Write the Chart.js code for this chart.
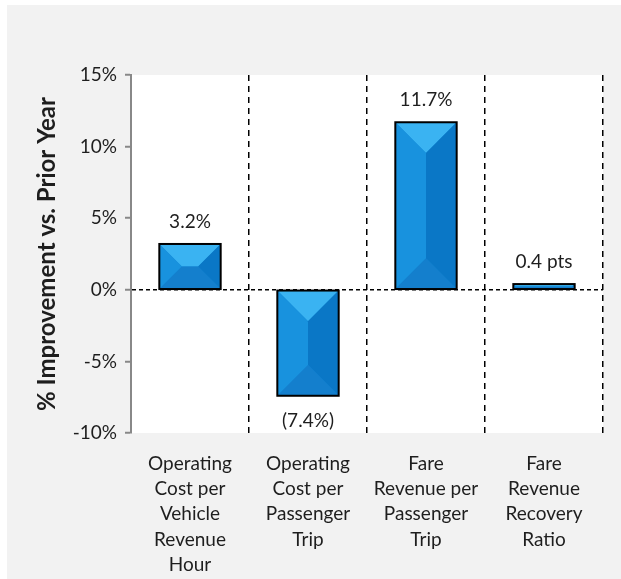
<!DOCTYPE html>
<html>
<head>
<meta charset="utf-8">
<script src="https://cdn.jsdelivr.net/npm/chart.js@4"></script>
<style>
  body { margin: 0; background: #ffffff; }
  #wrap { position: absolute; left: 7px; top: 5px; width: 614px; height: 574px; background: #f2f2f2; }
  canvas { display: block; }
</style>
</head>
<body>
<div id="wrap"><canvas id="bar-chart" width="614" height="574"></canvas></div>
<script>
const categories = [
  ['Operating', 'Cost per', 'Vehicle', 'Revenue', 'Hour'],
  ['Operating', 'Cost per', 'Passenger', 'Trip'],
  ['Fare', 'Revenue per', 'Passenger', 'Trip'],
  ['Fare', 'Revenue', 'Recovery', 'Ratio']
];
const improvement = [3.2, -7.4, 11.7, 0.4];
const valueUnits = ['%', '%', '%', ' pts'];
const yMin = -10;
const yMax = 15;
const yStep = 5;

const fontFamily = 'Lato, "Open Sans", sans-serif';
const textColor = '#1e1e1e';

function formatValue(v, unit) {
  const txt = Math.abs(v).toFixed(1) + unit;
  return v < 0 ? '(' + txt + ')' : txt;
}

// white plot area on the grey card
const plotBackground = {
  id: 'plotBackground',
  beforeDraw(chart) {
    const { ctx, chartArea: a } = chart;
    ctx.save();
    ctx.fillStyle = '#ffffff';
    ctx.fillRect(a.left, a.top, a.right - a.left, a.bottom - a.top);
    ctx.restore();
  }
};

// bevelled look on each bar + value labels
const bevelBars = {
  id: 'bevelBars',
  afterDatasetsDraw(chart) {
    const ctx = chart.ctx;
    const meta = chart.getDatasetMeta(0);
    meta.data.forEach((bar, i) => {
      const p = bar.getProps(['x', 'y', 'base', 'width'], true);
      const l = p.x - p.width / 2, r = p.x + p.width / 2;
      const t = Math.min(p.y, p.base), b = Math.max(p.y, p.base);
      const d = Math.min((r - l) / 2, (b - t) / 2);
      const il = l + d, ir = r - d, it = t + d, ib = b - d;

      function face(pts, color) {
        ctx.beginPath();
        ctx.moveTo(pts[0][0], pts[0][1]);
        for (let k = 1; k < pts.length; k++) ctx.lineTo(pts[k][0], pts[k][1]);
        ctx.closePath();
        ctx.fillStyle = color;
        ctx.fill();
      }
      ctx.save();
      face([[l, t], [r, t], [r, b], [l, b]], '#1188d6');
      face([[l, t], [r, t], [ir, it], [il, it]], '#3ab3f2');
      face([[l, t], [il, it], [il, ib], [l, b]], '#1892de');
      face([[r, t], [r, b], [ir, ib], [ir, it]], '#0a77c6');
      face([[l, b], [r, b], [ir, ib], [il, ib]], '#147fcd');
      ctx.lineWidth = 2;
      ctx.strokeStyle = '#000000';
      ctx.strokeRect(l, t, r - l, b - t);

      const v = improvement[i];
      ctx.fillStyle = textColor;
      ctx.font = '19px ' + fontFamily;
      ctx.textAlign = 'center';
      ctx.textBaseline = 'middle';
      const ly = v < 0 ? b + 25 : t - 22;
      ctx.fillText(formatValue(v, valueUnits[i]), p.x, ly);
      ctx.restore();
    });
  }
};

const chartCanvas = document.getElementById('bar-chart');

new Chart(chartCanvas, {
  type: 'bar',
  data: {
    labels: categories,
    datasets: [{
      data: improvement,
      backgroundColor: '#1188d6',
      borderColor: '#000000',
      borderWidth: 2,
      borderSkipped: false,
      barPercentage: 0.52,
      categoryPercentage: 1
    }]
  },
  options: {
    responsive: false,
    animation: false,
    events: [],
    layout: { padding: { left: 0, top: 70, right: 18, bottom: 0 } },
    plugins: {
      legend: { display: false },
      tooltip: { enabled: false }
    },
    scales: {
      x: {
        offset: true,
        afterFit(scale) { scale.height = 146; },
        grid: {
          offset: true,
          drawTicks: false,
          lineWidth: 1.5,
          color: (c) => c.index === 0 ? 'rgba(0,0,0,0)' : '#000000'
        },
        border: { display: false, dash: [6, 5] },
        ticks: {
          padding: 18,
          maxRotation: 0,
          autoSkip: false,
          color: textColor,
          font: { family: fontFamily, size: 19, lineHeight: 1.33 }
        }
      },
      y: {
        min: yMin,
        max: yMax,
        afterFit(scale) { scale.width = 124; },
        grid: {
          lineWidth: 1.5,
          color: (c) => c.tick && c.tick.value === 0 ? '#000000' : 'rgba(0,0,0,0)',
          tickColor: '#888888',
          tickBorderDash: [],
          tickWidth: 2,
          tickLength: 6
        },
        border: { display: true, color: '#888888', width: 2, dash: [4, 3] },
        ticks: {
          stepSize: yStep,
          padding: 8,
          color: textColor,
          font: { family: fontFamily, size: 19 },
          callback: (v) => v + '%'
        },
        title: {
          display: true,
          text: '% Improvement vs. Prior Year',
          color: textColor,
          padding: { top: 26, bottom: 0 },
          font: { family: fontFamily, size: 24, weight: 'bold' }
        }
      }
    }
  },
  plugins: [plotBackground, bevelBars]
});
</script>
</body>
</html>
